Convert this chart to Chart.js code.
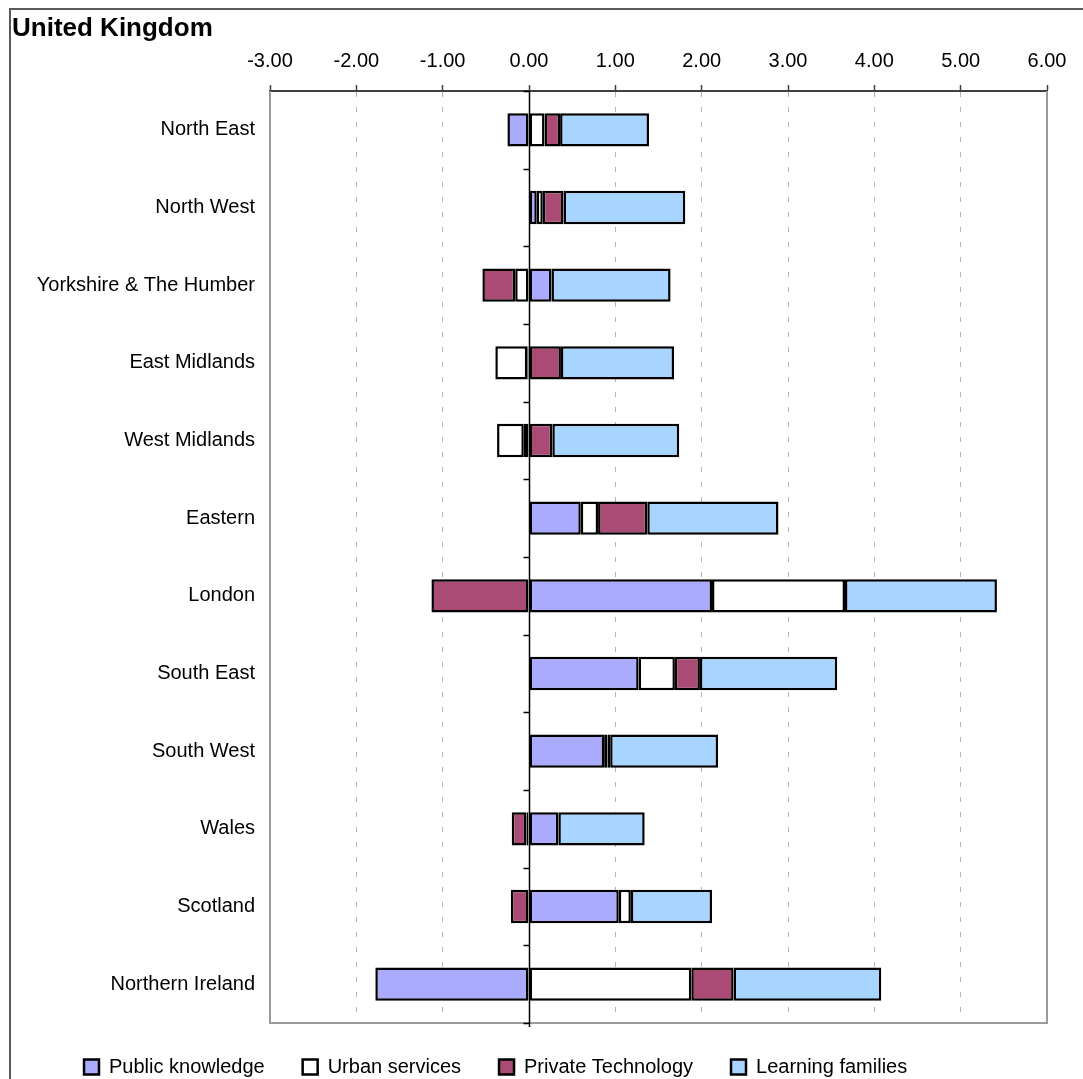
<!DOCTYPE html>
<html>
<head>
<meta charset="utf-8">
<script src="https://cdn.jsdelivr.net/npm/chart.js@4/dist/chart.umd.min.js"></script>
<style>
  html, body { margin: 0; padding: 0; background: #fff; overflow: hidden; }
  #wrap { position: relative; width: 1083px; height: 1079px; }
  #frame { position: absolute; left: 9px; top: 8px; width: 1200px; height: 1200px;
           border-top: 2px solid #5a5a5a; border-left: 2px solid #5a5a5a; box-sizing: border-box; }
  #title { position: absolute; left: 12px; top: 14px; font: bold 26px/26px "Liberation Sans", Arial, sans-serif; color: #000; white-space: nowrap; }
  canvas { position: absolute; left: 0; top: 0; }
</style>
</head>
<body>
<div id="wrap">
  <div id="frame"></div>
  <canvas id="c" width="1083" height="1079"></canvas>
  <div id="title">United Kingdom</div>
</div>
<script>
const categories = ['North East', 'North West', 'Yorkshire & The Humber', 'East Midlands', 'West Midlands',
  'Eastern', 'London', 'South East', 'South West', 'Wales', 'Scotland', 'Northern Ireland'];
const publicKnowledge   = [-0.25, 0.09,  0.26, -0.02, -0.06, 0.60,  2.12, 1.27, 0.87,  0.34,  1.04, -1.78];
const urbanServices     = [ 0.18, 0.07, -0.16, -0.37, -0.31, 0.20,  1.54, 0.42, 0.04, -0.03,  0.14,  1.88];
const privateTechnology = [ 0.18, 0.24, -0.38,  0.37,  0.27, 0.57, -1.13, 0.29, 0.03, -0.17, -0.21,  0.49];
const learningFamilies  = [ 1.03, 1.41,  1.38,  1.31,  1.47, 1.52,  1.76, 1.59, 1.25,  1.00,  0.94,  1.71];
const seriesNames = ['Public knowledge', 'Urban services', 'Private Technology', 'Learning families'];
const seriesColors = ['#AAAAFF', '#FFFFFF', '#AA4B76', '#A8D5FF'];
const xMin = -3, xMax = 6, xStep = 1;

Chart.defaults.font.family = '"Liberation Sans", Arial, sans-serif';
Chart.defaults.color = '#000';

const framePlugin = {
  id: 'framePlugin',
  afterLayout(chart) {
    // move the legend row so that it starts under the plot, as in the reference
    if (chart.legend) {
      chart.legend.left += 26;
      chart.legend.top -= 4;
    }
  },
  beforeDatasetsDraw(chart) {
    const {ctx, chartArea: a} = chart;
    ctx.save();
    ctx.strokeStyle = '#9a9a9a';
    ctx.lineWidth = 2;
    ctx.beginPath();
    ctx.moveTo(a.left, a.top); ctx.lineTo(a.left, a.bottom);
    ctx.lineTo(a.right, a.bottom); ctx.lineTo(a.right, a.top);
    ctx.stroke();
    ctx.restore();
  },
  afterDatasetsDraw(chart) {
    const {ctx, chartArea: a, scales} = chart;
    const x0 = Math.round(scales.x.getPixelForValue(0)) + 0.5;
    const y = scales.y;
    ctx.save();
    ctx.strokeStyle = '#000';
    ctx.lineWidth = 1.5;
    ctx.beginPath();
    ctx.moveTo(x0, a.top);
    ctx.lineTo(x0, a.bottom + 4);
    const n = categories.length;
    for (let i = 0; i <= n; i++) {
      let yy;
      if (i === 0) yy = a.top;
      else if (i === n) yy = a.bottom;
      else yy = (y.getPixelForValue(i - 1) + y.getPixelForValue(i)) / 2;
      yy = Math.round(yy) + 0.5;
      ctx.moveTo(x0 - 6, yy);
      ctx.lineTo(x0, yy);
    }
    ctx.stroke();
    ctx.restore();
  }
};

const datasets = [publicKnowledge, urbanServices, privateTechnology, learningFamilies].map((d, i) => ({
  label: seriesNames[i],
  data: d,
  backgroundColor: seriesColors[i],
  borderColor: '#000',
  borderWidth: 2.5,
  borderSkipped: false,
  categoryPercentage: 1.0,
  barPercentage: 0.43
}));

new Chart(document.getElementById('c'), {
  type: 'bar',
  data: { labels: categories, datasets },
  options: {
    indexAxis: 'y',
    responsive: false,
    animation: false,
    layout: { padding: { left: 20, right: 36, top: 37, bottom: -12 } },
    scales: {
      x: {
        position: 'top',
        stacked: true,
        min: xMin, max: xMax,
        ticks: { stepSize: xStep, padding: 12, font: { size: 20 }, color: '#000',
                 callback: v => Number(v).toFixed(2) },
        grid: { color: '#b5b5b5', lineWidth: 1, drawOnChartArea: true, drawTicks: true,
                tickLength: 6, tickColor: '#404040', tickWidth: 1.5, tickBorderDash: [] },
        border: { display: true, color: '#404040', width: 2, dash: [5, 10] }
      },
      y: {
        stacked: true,
        ticks: { padding: 15, font: { size: 20 }, color: '#000' },
        grid: { display: false, drawTicks: false },
        border: { display: false },
        afterFit: s => { s.width = 250; }
      }
    },
    plugins: {
      legend: {
        position: 'bottom',
        align: 'start',
        labels: { boxWidth: 15, boxHeight: 15, padding: 38, font: { size: 20 }, color: '#000' }
      },
      title: { display: false },
      tooltip: { enabled: false }
    }
  },
  plugins: [framePlugin]
});
</script>
</body>
</html>
